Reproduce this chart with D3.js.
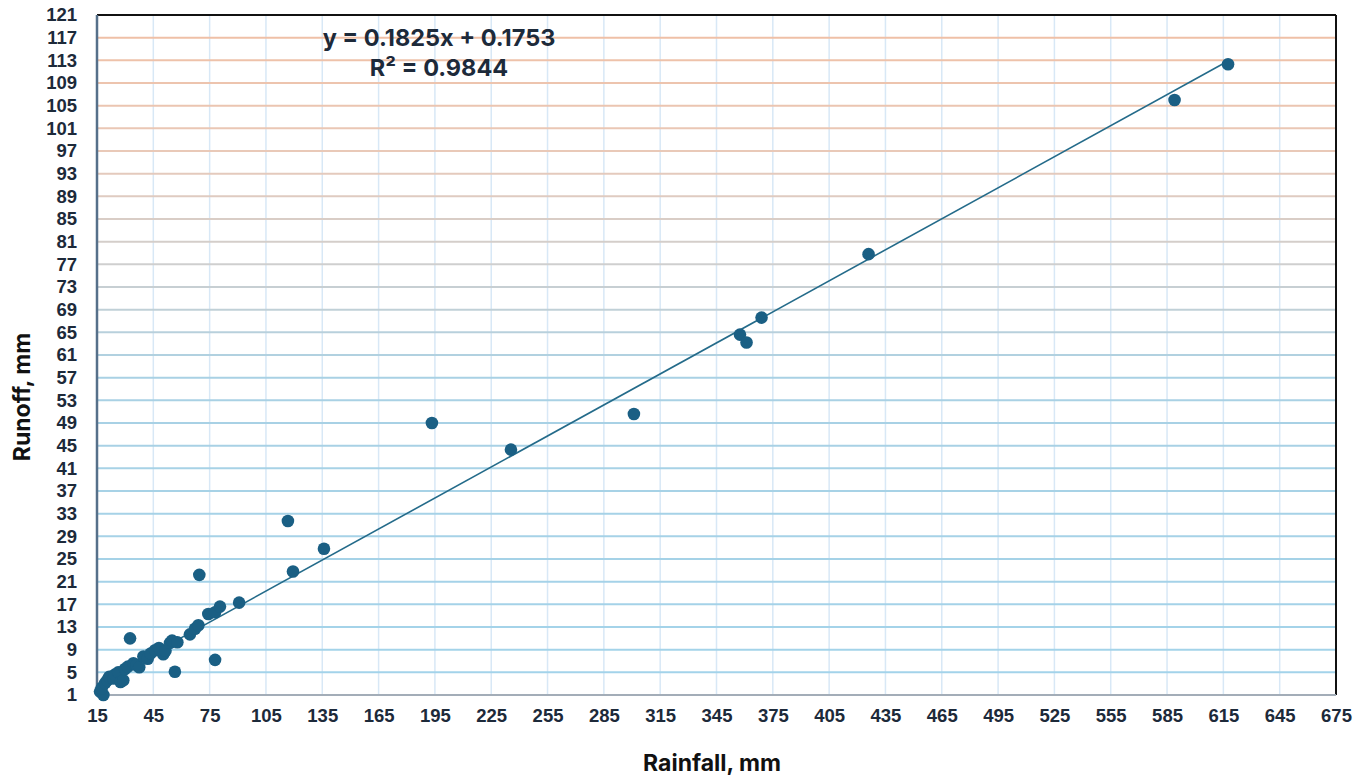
<!DOCTYPE html>
<html>
<head>
<meta charset="utf-8">
<script src="https://cdn.jsdelivr.net/npm/d3@7"></script>
<style>
  html, body { margin: 0; padding: 0; background: #fff; }
  svg { display: block; font-family: Inter, "Open Sans", "Liberation Sans", sans-serif; }
</style>
</head>
<body>
<svg id="chart" width="1367" height="777"></svg>
<script>
// ---- data ----
const rainfall = [16.6, 18.4, 17.5, 19.3, 20.5, 21.5, 23.7, 24.5, 26.3, 27.5, 29.0, 29.9, 31.5, 32.6, 34.4, 36.0, 37.5, 39.7, 42.0, 43.5, 45.9, 48.0, 50.3, 51.5, 53.9, 55.0, 56.5, 57.8, 64.5, 67.2, 69.0, 69.5, 74.3, 77.9, 77.9, 80.5, 90.7, 116.7, 119.4, 135.9, 193.4, 235.5, 301.0, 357.5, 361.0, 369.0, 426.0, 589.0, 617.5];
const runoff   = [1.6, 1.0, 2.2, 3.1, 3.6, 4.2, 3.9, 4.6, 5.0, 3.3, 3.6, 5.6, 6.0, 11.0, 6.6, 6.3, 5.9, 7.8, 7.4, 8.3, 8.9, 9.3, 8.2, 8.8, 10.2, 10.6, 5.1, 10.3, 11.7, 12.7, 13.3, 22.2, 15.3, 15.6, 7.2, 16.6, 17.3, 31.7, 22.8, 26.8, 49.0, 44.3, 50.6, 64.6, 63.2, 67.6, 78.8, 106.0, 112.3];
const xTicks = d3.range(15, 676, 30);
const yTicks = d3.range(1, 122, 4);
const slope = 0.1825, intercept = 0.1753;
const equationText = "y = 0.1825x + 0.1753";
const r2Text = "R\u00B2 = 0.9844";
const xTitle = "Rainfall, mm";
const yTitle = "Runoff, mm";

// ---- layout ----
const W = 1367, H = 777;
const m = {left: 97, top: 15, right: 31, bottom: 82};
const svg = d3.select("#chart");
const x = d3.scaleLinear().domain([15, 675]).range([m.left, W - m.right]);
const y = d3.scaleLinear().domain([1, 121]).range([H - m.bottom, m.top]);

const textCol = "#1d2a3a";
const gridCol = d3.scaleLinear().domain([121, 97, 77, 57, 1])
  .range(["#f0bea3", "#e9c9b8", "#cfcfcf", "#a9d1e4", "#a2d3ea"]);

// vertical grid
svg.append("g").selectAll("line").data(xTicks.slice(1, -1)).join("line")
  .attr("x1", d => x(d)).attr("x2", d => x(d))
  .attr("y1", y(121)).attr("y2", y(1))
  .attr("stroke", "#d8e8f6").attr("stroke-width", 1.5);

// horizontal grid
svg.append("g").selectAll("line").data(yTicks.slice(1, -1)).join("line")
  .attr("x1", x(15)).attr("x2", x(675))
  .attr("y1", d => y(d)).attr("y2", d => y(d))
  .attr("stroke", d => gridCol(d)).attr("stroke-width", 2);

// borders
svg.append("line").attr("x1", x(15)).attr("x2", x(675)).attr("y1", y(121)).attr("y2", y(121))
  .attr("stroke", "#111").attr("stroke-width", 2);
svg.append("line").attr("x1", x(675)).attr("x2", x(675)).attr("y1", y(121)).attr("y2", y(1))
  .attr("stroke", "#111").attr("stroke-width", 2);
svg.append("line").attr("x1", x(15)).attr("x2", x(675)).attr("y1", y(1)).attr("y2", y(1))
  .attr("stroke", "#a3adb8").attr("stroke-width", 2);
svg.append("line").attr("x1", x(15)).attr("x2", x(15)).attr("y1", y(121)).attr("y2", y(1))
  .attr("stroke", "#56708a").attr("stroke-width", 2.5);

// axes tick labels via d3 axes
const xAxis = svg.append("g").attr("transform", `translate(0,${y(1)})`)
  .call(d3.axisBottom(x).tickValues(xTicks).tickSize(0).tickPadding(14).tickFormat(d3.format("d")));
xAxis.select(".domain").remove();
xAxis.selectAll("text").attr("fill", textCol).attr("font-size", 18.5).attr("font-weight", 700);

const yAxis = svg.append("g").attr("transform", `translate(${x(15)},0)`)
  .call(d3.axisLeft(y).tickValues(yTicks).tickSize(0).tickPadding(20).tickFormat(d3.format("d")));
yAxis.select(".domain").remove();
yAxis.selectAll("text").attr("fill", textCol).attr("font-size", 18.5).attr("font-weight", 700);

// trendline
const xMax = d3.max(rainfall);
svg.append("line")
  .attr("x1", x(15)).attr("y1", y(slope * 15 + intercept))
  .attr("x2", x(xMax)).attr("y2", y(slope * xMax + intercept))
  .attr("stroke", "#246b8a").attr("stroke-width", 1.6);

// points
const pts = rainfall.map((r, i) => ({r, q: runoff[i]}));
svg.append("g").selectAll("circle").data(pts).join("circle")
  .attr("cx", d => x(d.r)).attr("cy", d => y(d.q)).attr("r", 6.3)
  .attr("fill", "#1a5f84");

// equation
svg.append("text").attr("x", 439).attr("y", 46).attr("text-anchor", "middle")
  .attr("font-size", 23.5).attr("font-weight", 700).attr("fill", textCol).text(equationText);
svg.append("text").attr("x", 439).attr("y", 76).attr("text-anchor", "middle")
  .attr("font-size", 23.5).attr("font-weight", 700).attr("fill", textCol).text(r2Text);

// axis titles
svg.append("text").attr("x", 712).attr("y", 771).attr("text-anchor", "middle")
  .attr("font-size", 23).attr("font-weight", 700).attr("fill", "#111").text(xTitle);
svg.append("text").attr("transform", "translate(30,397) rotate(-90)").attr("text-anchor", "middle")
  .attr("font-size", 23).attr("font-weight", 700).attr("fill", "#111").text(yTitle);
</script>
</body>
</html>
